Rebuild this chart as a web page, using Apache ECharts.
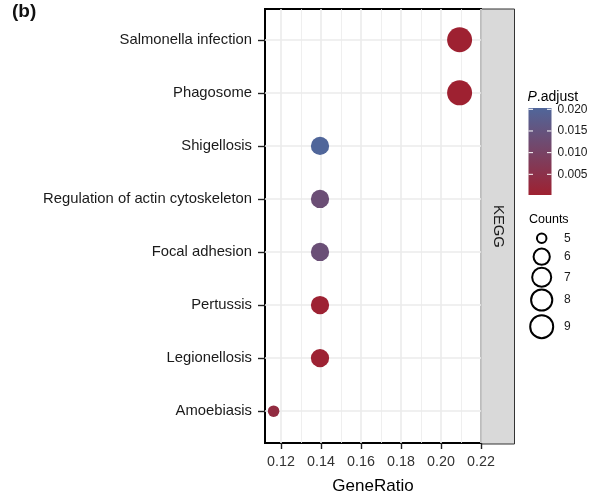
<!DOCTYPE html>
<html>
<head>
<meta charset="utf-8">
<script src="https://cdn.jsdelivr.net/npm/echarts@6/dist/echarts.min.js"></script>
<style>html,body{margin:0;padding:0;background:#fff}#c{width:606px;height:496px}</style>
</head>
<body>
<div id="c"></div>
<script>
// ---- data (top to bottom) ----
const categories = ['Salmonella infection','Phagosome','Shigellosis','Regulation of actin cytoskeleton','Focal adhesion','Pertussis','Legionellosis','Amoebiasis'];
const geneRatio = [0.2093, 0.2093, 0.1395, 0.1395, 0.1395, 0.1395, 0.1395, 0.1163];
const counts = [9, 9, 6, 6, 6, 6, 6, 5];
const pAdjust = [0.00023, 0.0003, 0.0203, 0.0133, 0.0135, 0.0006, 0.0006, 0.0033];
const xTicks = [0.12, 0.14, 0.16, 0.18, 0.20, 0.22];
const xMinorTicks = [0.13, 0.15, 0.17, 0.19, 0.21];
const pTicks = [0.020, 0.015, 0.010, 0.005];
const countTicks = [5, 6, 7, 8, 9];
const facetLabel = 'KEGG';

const FONT = 'Liberation Sans, Arial, sans-serif';
const LOW = '#9E2131', HIGH = '#50669A';
const pMin = 0.00023, pMax = 0.0203;
const cMin = 5, cMax = 9;
function sizeScale(c){ return 11.5 + 13.5*Math.sqrt((c - cMin)/(cMax - cMin)); }

const n = categories.length;
const yVals = categories.map((c,i)=> n - i);
const data = categories.map((c,i)=>[geneRatio[i], n - i, counts[i], pAdjust[i]]);

const chart = echarts.init(document.getElementById('c'));

// colorbar geometry
const cbX = 528.5, cbW = 23, cbTop = 108, cbBot = 195;
function pToY(v){ return cbTop + (pMax - v)/(pMax - pMin)*(cbBot - cbTop); }

const graphics = [
  {type:'text', left: 12, top: 2, style:{text:'(b)', font:'bold 19px '+FONT, fill:'#111'}},
  // strip
  {type:'rect', shape:{x:481.5, y:9, width:33, height:435}, style:{fill:'#D9D9D9', stroke:'#333', lineWidth:1}},
  {type:'text', x: 498, y: 226.5, rotation: -Math.PI/2,
    style:{text: facetLabel, font:'14.8px '+FONT, fill:'#1A1A1A', align:'center', verticalAlign:'middle'}},
  // colorbar title
  {type:'text', x: cbX - 1, y: 97.5, style:{rich:{i:{fontStyle:'italic', fontSize:14, fontFamily:FONT, fill:'#000'}, r:{fontSize:14, fontFamily:FONT, fill:'#000'}}, text:'{i|P}{r|.adjust}', verticalAlign:'middle', fill:'#000'}},
  {type:'rect', shape:{x:cbX, y:cbTop, width:cbW, height:cbBot-cbTop},
    style:{fill: new echarts.graphic.LinearGradient(0,0,0,1,[{offset:0,color:HIGH},{offset:1,color:LOW}])}},
  // counts title
  {type:'text', x: 529, y: 220, style:{text:'Counts', font:'12.5px '+FONT, fill:'#000', verticalAlign:'middle'}}
];
pTicks.forEach(v=>{
  const y = pToY(v);
  graphics.push({type:'line', shape:{x1:cbX, y1:y, x2:cbX+4.5, y2:y}, style:{stroke:'#fff', lineWidth:1}});
  graphics.push({type:'line', shape:{x1:cbX+cbW-4.5, y1:y, x2:cbX+cbW, y2:y}, style:{stroke:'#fff', lineWidth:1}});
  graphics.push({type:'text', x: 557.5, y: y, style:{text: v.toFixed(3), font:'12px '+FONT, fill:'#1A1A1A', verticalAlign:'middle'}});
});
const countY = [238.3, 256.7, 277.3, 300, 326.7];
countTicks.forEach((c,i)=>{
  const r = sizeScale(c)/2 - 1;
  graphics.push({type:'circle', shape:{cx:541.7, cy:countY[i], r:r}, style:{fill:'none', stroke:'#000', lineWidth:2}});
  graphics.push({type:'text', x: 564, y: countY[i], style:{text:String(c), font:'12px '+FONT, fill:'#1A1A1A', verticalAlign:'middle'}});
});

chart.setOption({
  animation: false,
  backgroundColor: '#fff',
  grid: {left: 265, top: 9, right: 125, bottom: 53, show: true, borderColor: '#000', borderWidth: 2, backgroundColor: 'transparent', containLabel: false, outerBoundsMode: 'none'},
  xAxis: [{
    type: 'value', min: 0.112, max: 0.22,
    name: 'GeneRatio', nameLocation: 'middle', nameGap: 35,
    nameTextStyle: {fontSize: 17, fontFamily: FONT, color: '#000'},
    axisLine: {show: false},
    axisTick: {show: true, length: 6, lineStyle: {color: '#222', width: 1.4}, customValues: xTicks},
    axisLabel: {customValues: xTicks, formatter: v => Number(v).toFixed(2), fontSize: 14.3, fontFamily: FONT, color: '#333', margin: 12},
    splitLine: {show: true, lineStyle: {color: '#EBEBEB', width: 1.6}}
  }, {
    type: 'value', min: 0.112, max: 0.22, position: 'bottom',
    axisLine: {show: false},
    axisTick: {show: false, customValues: xMinorTicks},
    axisLabel: {show: false, customValues: xMinorTicks},
    splitLine: {show: true, lineStyle: {color: '#EBEBEB', width: 0.8}}
  }],
  yAxis: {
    type: 'value', min: 0.4, max: 8.58,
    axisLine: {show: false},
    axisTick: {show: true, length: 7, lineStyle: {color: '#222', width: 1.4}, customValues: yVals},
    axisLabel: {customValues: yVals, formatter: v => categories[n - Math.round(v)], fontSize: 14.8, fontFamily: FONT, color: '#1A1A1A', margin: 13},
    splitLine: {show: true, lineStyle: {color: '#EBEBEB', width: 1.6}}
  },
  visualMap: {type: 'continuous', show: false, min: pMin, max: pMax, dimension: 3, seriesIndex: 0, inRange: {color: [LOW, HIGH]}},
  series: [{
    type: 'scatter', xAxisIndex: 0, data: data,
    symbolSize: d => sizeScale(d[2]),
    itemStyle: {opacity: 1}
  }],
  graphic: graphics
});
</script>
</body>
</html>
